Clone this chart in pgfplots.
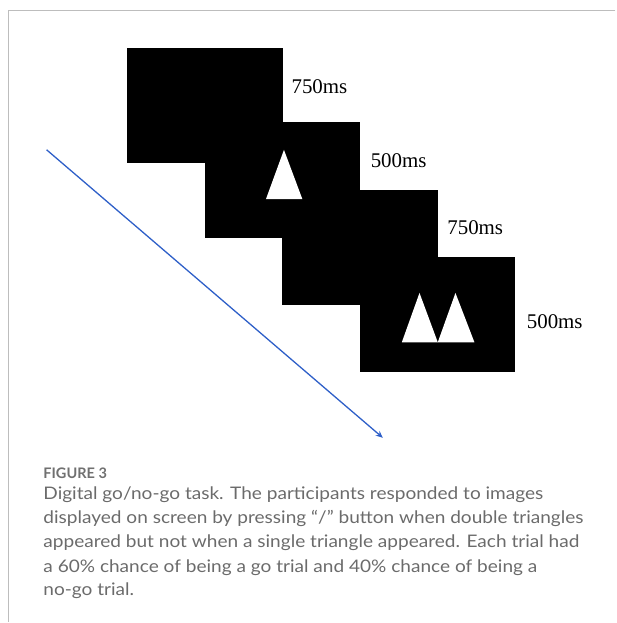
\documentclass[border=0pt]{standalone}
\usepackage{pgfplots}
\pgfplotsset{compat=1.18}
\usetikzlibrary{arrows.meta}
\usepackage{fontspec}
\setmainfont{Liberation Serif}
\newfontfamily\capfont[FakeStretch=1.1]{Lato}
\newfontfamily\figfont{Lato}
\definecolor{arrowblue}{HTML}{2E5FC8}
\definecolor{capgray}{HTML}{6B6B6B}
\definecolor{figgray}{HTML}{707070}
\definecolor{framegray}{HTML}{BDBDBD}
\begin{document}
\begin{tikzpicture}
\begin{axis}[
  width=616bp, height=623bp, scale only axis,
  xmin=0, xmax=616, ymin=0, ymax=623, y dir=reverse,
  hide axis, clip=false,
]
\addplot[draw=none] coordinates {(0,0) (616,623)};
% frame
\addplot[framegray, line width=1.5bp] coordinates {(616,10.5) (8.5,10.5) (8.5,623)};
% screens
\addplot[fill=black, draw=none] coordinates {(127.5,48.5) (283.5,48.5) (283.5,163.5) (127.5,163.5)} -- cycle;
\addplot[fill=black, draw=none] coordinates {(205,121.7) (360.7,121.7) (360.7,238.3) (205,238.3)} -- cycle;
\addplot[fill=black, draw=none] coordinates {(282.3,190) (438.3,190) (438.3,305) (282.3,305)} -- cycle;
\addplot[fill=black, draw=none] coordinates {(360,257.7) (516,257.7) (516,372.3) (360,372.3)} -- cycle;
% triangles
\addplot[fill=white, draw=none] coordinates {(284.3,150) (302.7,199.3) (266.3,199.3)} -- cycle;
\addplot[fill=white, draw=none] coordinates {(420,293.3) (438.3,342.7) (402.3,342.7)} -- cycle;
\addplot[fill=white, draw=none] coordinates {(456,293.3) (475,342.7) (438.3,342.7)} -- cycle;
% arrow
\addplot[arrowblue, line width=1.3bp, -{Stealth[length=7bp,width=6bp]}] coordinates {(46.7,150) (383.3,438.3)};
% durations
\node[anchor=west, inner sep=0pt, font=\fontsize{21}{21}\selectfont] at (axis cs:291.7,86.7) {750ms};
\node[anchor=west, inner sep=0pt, font=\fontsize{21}{21}\selectfont] at (axis cs:371,160.7) {500ms};
\node[anchor=west, inner sep=0pt, font=\fontsize{21}{21}\selectfont] at (axis cs:447.7,228.3) {750ms};
\node[anchor=west, inner sep=0pt, font=\fontsize{21}{21}\selectfont] at (axis cs:527.3,321.7) {500ms};
% caption
\node[anchor=base west, inner sep=0pt, text=figgray, font=\figfont\bfseries\fontsize{14.6}{15}\selectfont] at (axis cs:43.3,479) {FIGURE 3};
\node[anchor=base west, inner sep=0pt, text=capgray, font=\capfont\fontsize{17.4}{17}\selectfont] at (axis cs:43.3,500) {Digital go/no-go task. The participants responded to images};
\node[anchor=base west, inner sep=0pt, text=capgray, font=\capfont\fontsize{17.4}{17}\selectfont] at (axis cs:43.3,524.3) {displayed on screen by pressing “/” button when double triangles};
\node[anchor=base west, inner sep=0pt, text=capgray, font=\capfont\fontsize{17.4}{17}\selectfont] at (axis cs:43.3,548.3) {appeared but not when a single triangle appeared. Each trial had};
\node[anchor=base west, inner sep=0pt, text=capgray, font=\capfont\fontsize{17.4}{17}\selectfont] at (axis cs:43.3,572.7) {a 60\% chance of being a go trial and 40\% chance of being a};
\node[anchor=base west, inner sep=0pt, text=capgray, font=\capfont\fontsize{17.4}{17}\selectfont] at (axis cs:43.3,596.7) {no-go trial.};
\end{axis}
\end{tikzpicture}
\end{document}
